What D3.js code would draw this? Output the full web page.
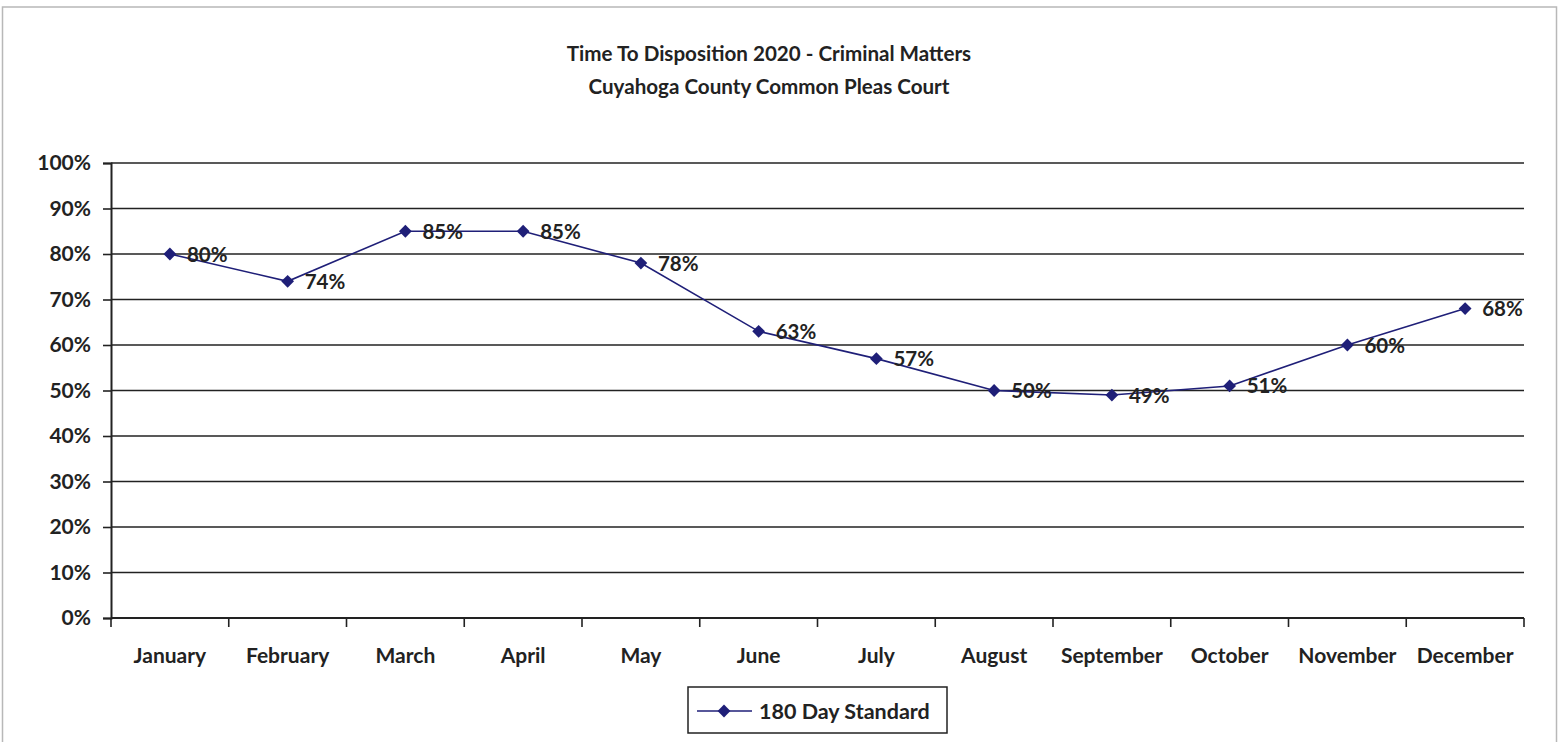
<!DOCTYPE html>
<html>
<head>
<meta charset="utf-8">
<script src="https://cdn.jsdelivr.net/npm/d3@7"></script>
<style>
  body { margin: 0; background: #fff; }
  text { font-family: Lato, "Open Sans", sans-serif; font-weight: bold; fill: #222; }
</style>
</head>
<body>
<svg width="1562" height="742"></svg>
<script>
const months = ["January", "February", "March", "April", "May", "June", "July",
  "August", "September", "October", "November", "December"];
const values = [80, 74, 85, 85, 78, 63, 57, 50, 49, 51, 60, 68];
const yTicks = [0, 10, 20, 30, 40, 50, 60, 70, 80, 90, 100];
const seriesName = "180 Day Standard";
const titleLines = ["Time To Disposition 2020 - Criminal Matters", "Cuyahoga County Common Pleas Court"];

const svg = d3.select("svg");
const navy = "#1f1f78";

// outer chart frame
svg.append("rect")
  .attr("x", 2.5).attr("y", 7)
  .attr("width", 1554).attr("height", 745)
  .attr("fill", "none").attr("stroke", "#b8b8b8").attr("stroke-width", 1.5);

const plotL = 111, plotR = 1524, plotT = 163, plotB = 618;

const x = d3.scaleBand().domain(months).range([plotL, plotR]);
const y = d3.scaleLinear().domain([0, 100]).range([plotB, plotT]);

// title
svg.append("g").selectAll("text")
  .data(titleLines)
  .enter().append("text")
  .attr("x", 769)
  .attr("y", (d, i) => 61 + i * 33)
  .attr("text-anchor", "middle")
  .style("font-size", "20.6px")
  .text(d => d);

// gridlines
svg.append("g").selectAll("line")
  .data(yTicks)
  .enter().append("line")
  .attr("x1", plotL).attr("x2", plotR)
  .attr("y1", d => y(d)).attr("y2", d => y(d))
  .attr("stroke", "#222").attr("stroke-width", 1.6);

// y axis
const yAxis = svg.append("g")
  .attr("transform", `translate(${plotL},0)`)
  .call(d3.axisLeft(y).tickValues(yTicks).tickFormat(d => d + "%").tickSize(8).tickPadding(12));
yAxis.attr("font-family", null).attr("font-size", null);
yAxis.select(".domain").attr("stroke", "#222").attr("stroke-width", 2);
yAxis.selectAll(".tick line").attr("stroke", "#222").attr("stroke-width", 1.6);
yAxis.selectAll("text").style("font-size", "21px").attr("fill", "#222");

// x axis: ticks at category boundaries
const xAxis = svg.append("g")
  .attr("transform", `translate(0,${plotB})`)
  .call(d3.axisBottom(x).tickSize(0).tickPadding(30));
xAxis.attr("font-family", null).attr("font-size", null);
xAxis.select(".domain").remove();
xAxis.selectAll("text").style("font-size", "21px").attr("fill", "#222");
svg.append("line")
  .attr("x1", plotL).attr("x2", plotR)
  .attr("y1", plotB).attr("y2", plotB)
  .attr("stroke", "#222").attr("stroke-width", 2);
svg.append("g").selectAll("line")
  .data(months.map(m => x(m)).concat([plotR]))
  .enter().append("line")
  .attr("x1", d => d).attr("x2", d => d)
  .attr("y1", plotB).attr("y2", plotB + 9)
  .attr("stroke", "#222").attr("stroke-width", 1.6);

// series line
const cx = d => x(d.m) + x.bandwidth() / 2;
const data = months.map((m, i) => ({ m: m, v: values[i] }));

svg.append("path")
  .datum(data)
  .attr("fill", "none")
  .attr("stroke", navy)
  .attr("stroke-width", 1.6)
  .attr("d", d3.line().x(cx).y(d => y(d.v)));

const diamond = d3.symbol().type(d3.symbolSquare).size(82);

svg.append("g").selectAll("path")
  .data(data)
  .enter().append("path")
  .attr("d", diamond)
  .attr("transform", d => `translate(${cx(d)},${y(d.v)}) rotate(45)`)
  .attr("fill", navy);

svg.append("g").selectAll("text")
  .data(data)
  .enter().append("text")
  .attr("x", d => cx(d) + 17)
  .attr("y", d => y(d.v) + 7.5)
  .style("font-size", "20.5px")
  .text(d => d.v + "%");

// legend
const lg = svg.append("g");
lg.append("rect")
  .attr("x", 688).attr("y", 687).attr("width", 259).attr("height", 46)
  .attr("fill", "#fff").attr("stroke", "#222").attr("stroke-width", 1.5);
lg.append("line")
  .attr("x1", 697).attr("x2", 752).attr("y1", 711).attr("y2", 711)
  .attr("stroke", navy).attr("stroke-width", 1.6);
lg.append("path")
  .attr("d", diamond)
  .attr("transform", "translate(724,711) rotate(45)")
  .attr("fill", navy);
lg.append("text")
  .attr("x", 759).attr("y", 718.5)
  .style("font-size", "21.5px")
  .text(seriesName);
</script>
</body>
</html>
